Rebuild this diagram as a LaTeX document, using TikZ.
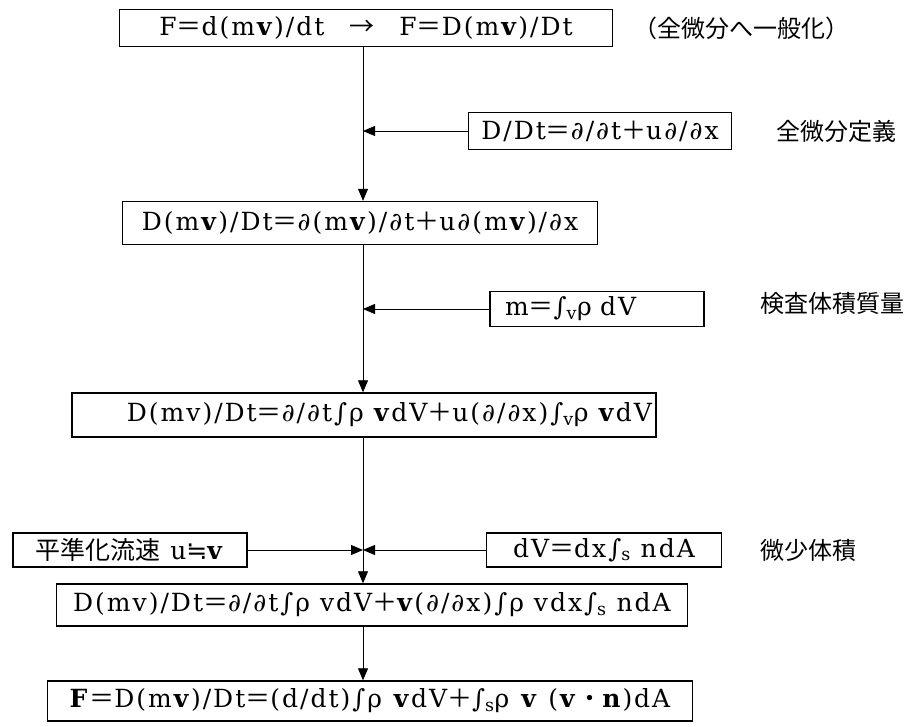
\documentclass[tikz,border=0pt]{standalone}
\usepackage{fontspec}
\setmainfont{DejaVu Serif}
\newfontfamily\eqfont[LetterSpace=8]{DejaVu Serif}
\newfontfamily\cjk{Noto Sans CJK JP}
\newfontfamily\symf{DejaVu Sans}
\usetikzlibrary{positioning,arrows.meta}
\newcommand{\feq}{{\cjk ＝}}
\newcommand{\fplus}{{\cjk ＋}}
\newcommand{\fdot}{{\cjk ・}}

\begin{document}
\begin{tikzpicture}[
  x=1pt, y=-1pt,
  box/.style={draw, line width=1.4pt, inner sep=2pt, font=\eqfont\fontsize{25}{28}\selectfont},
  note/.style={font=\cjk\fontsize{24}{28}\selectfont},
  arrow/.style={-{Triangle[length=12pt,width=10pt]}, line width=0.8pt}
]
\useasboundingbox (0,0) rectangle (915,727);
\coordinate (spine) at (363,0);

% main chain of equations
\node[box, minimum width=493pt, minimum height=37pt] (gen) at (366,28)
  {F\feq d(m\textbf{v})/dt\quad{\cjk →}\quad F\feq D(m\textbf{v})/Dt};
\node[box, minimum width=475pt, minimum height=43pt] (mat) at (360,223)
  {D(m\textbf{v})/Dt\feq∂(m\textbf{v})/∂t\fplus u∂(m\textbf{v})/∂x};
\node[box, minimum width=584pt, minimum height=44pt, text width=576pt, align=right] (integ) at (364,415)
  {D(mv)/Dt\feq∂/∂t∫ρ \textbf{v}dV\fplus u(∂/∂x)∫\textsubscript{v}ρ \textbf{v}dV};
\node[box, minimum width=631pt, minimum height=42pt] (surf) at (372,605)
  {D(mv)/Dt\feq∂/∂t∫ρ vdV\fplus\textbf{v}(∂/∂x)∫ρ vdx∫\textsubscript{s} ndA};
\node[box, minimum width=645pt, minimum height=40pt] (final) at (370,701)
  {\textbf{F}\feq D(m\textbf{v})/Dt\feq(d/dt)∫ρ \textbf{v}dV\fplus∫\textsubscript{s}ρ \textbf{v} (\textbf{v}\fdot\textbf{n})dA};

% side inputs
\node[box, minimum width=263pt, minimum height=37pt] (defn) at (600,131)
  {D/Dt\feq∂/∂t\fplus u∂/∂x};
\node[box, minimum width=214pt, minimum height=35pt, text width=200pt] (mass) at (597,309)
  {\hspace*{8pt}m\feq∫\textsubscript{v}ρ dV};
\node[box, minimum width=234pt, minimum height=34pt] (avg) at (130,550)
  {{\cjk 平準化流速} u{\symf ≒}\textbf{v}};
\node[box, minimum width=235pt, minimum height=34pt] (dvol) at (604,550)
  {dV\feq dx∫\textsubscript{s} ndA};
\coordinate (join) at (avg.east -| spine);

% notes
\node[note] (genlbl) at (741,28) {（全微分へ一般化）};
\node[note] (defnlbl) at (836,131) {全微分定義};
\node[note] (masslbl) at (832,303) {検査体積質量};
\node[note] (dvollbl) at (808,550) {微少体積};

% arrows
\draw[arrow] (gen.south -| spine) -- (mat.north -| spine);
\draw[arrow] (mat.south -| spine) -- (integ.north -| spine);
\draw[arrow] (integ.south -| spine) -- (surf.north -| spine);
\draw[arrow] (surf.south -| spine) -- (final.north -| spine);
\draw[arrow] (defn.west) -- (defn.west -| spine);
\draw[arrow] (mass.west) -- (mass.west -| spine);
\draw[arrow] (avg.east) -- (join);
\draw[arrow] (dvol.west) -- (join);

\end{tikzpicture}
\end{document}
